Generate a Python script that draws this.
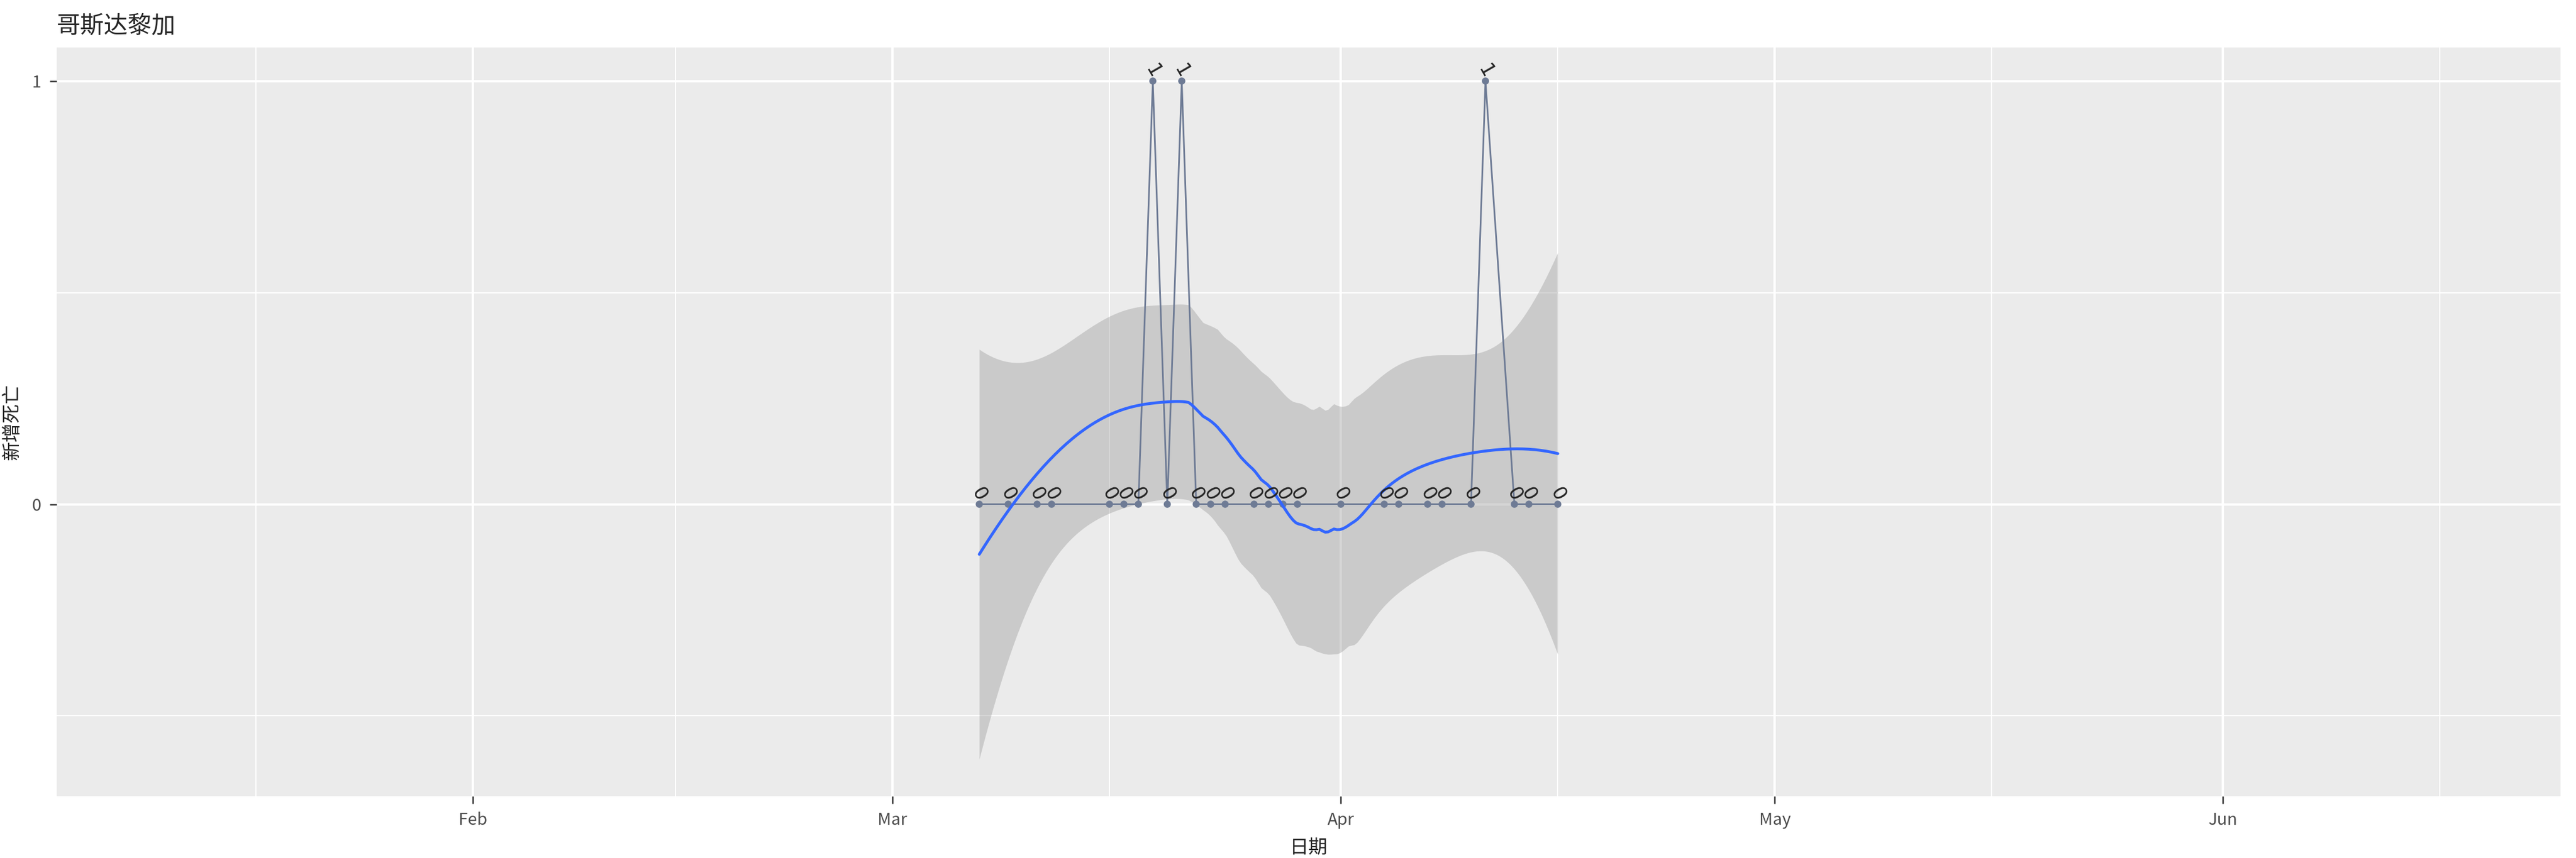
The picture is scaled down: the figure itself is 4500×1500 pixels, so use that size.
import numpy as np, pandas as pd, matplotlib
matplotlib.use("Agg")
import matplotlib.pyplot as plt, seaborn as sns
import matplotlib.dates as mdates

dates = ["2020-03-07","2020-03-09","2020-03-11","2020-03-12","2020-03-16","2020-03-17","2020-03-18",
         "2020-03-19","2020-03-20","2020-03-21","2020-03-22","2020-03-23","2020-03-24","2020-03-26",
         "2020-03-27","2020-03-28","2020-03-29","2020-04-01","2020-04-04","2020-04-05","2020-04-07",
         "2020-04-08","2020-04-10","2020-04-11","2020-04-13","2020-04-14","2020-04-16"]
deaths = [0,0,0,0,0,0,0,1,0,1,0,0,0,0,0,0,0,0,0,0,0,0,0,1,0,0,0]

df = pd.DataFrame({"date": pd.to_datetime(dates), "deaths": deaths})
x = mdates.date2num(df["date"]); y = np.array(deaths, float)

def loess(x, y, xs, span=0.75):
    n = len(x); q = int(np.floor(n*span))
    def row(x0):
        d = np.abs(x - x0); h = np.sort(d)[q-1]
        w = np.clip(1-(d/h)**3, 0, None)**3
        X = np.vstack([np.ones(n), x-x0, (x-x0)**2]).T
        W = np.diag(w)
        A = np.linalg.pinv(X.T@W@X)@X.T@W
        return A[0]
    L = np.array([row(v) for v in x])
    I = np.eye(n); M = (I-L).T@(I-L)
    d1 = np.trace(M); d2 = np.trace(M@M)
    s = np.sqrt(np.sum((y-L@y)**2)/d1)
    Ls = np.array([row(v) for v in xs])
    fit = Ls@y; se = s*np.sqrt(np.sum(Ls**2, axis=1))
    return fit, se, d1**2/d2

xs = np.linspace(x.min(), x.max(), 200)
fit, se, dfree = loess(x, y, xs)
tq = 2.05

sns.set_theme(style="darkgrid", rc={"axes.facecolor": "#EBEBEB", "grid.color": "white"})
plt.rcParams['font.family'] = ['Noto Sans CJK SC', 'DejaVu Sans']
fig, ax = plt.subplots(figsize=(15, 5), dpi=300)
fig.subplots_adjust(left=0.022, right=0.994, top=0.945, bottom=0.072)

ax.fill_between(mdates.num2date(xs), fit-tq*se, fit+tq*se, color="#999999", alpha=0.4, lw=0, zorder=2)
sns.lineplot(data=df, x="date", y="deaths", color="#6E7B95", lw=0.7, ax=ax, zorder=3)
sns.scatterplot(data=df, x="date", y="deaths", color="#6E7B95", s=9, edgecolor="none", ax=ax, zorder=4)
ax.plot(mdates.num2date(xs), fit, color="#3366FF", lw=1.2, zorder=5)
for d, v in zip(df["date"], deaths):
    ax.text(d, v, str(v), rotation=-60, fontsize=8, ha="center", va="bottom", color="#222222",
            zorder=6, family="DejaVu Sans")

ax.set_xlim(pd.Timestamp("2020-01-03 05:00"), pd.Timestamp("2020-06-24 08:00"))
ax.set_ylim(-0.69, 1.08)
ax.set_yticks([0, 1]); ax.set_yticks([-0.5, 0.5], minor=True)
ticks = pd.to_datetime(["2020-02-01","2020-03-01","2020-04-01","2020-05-01","2020-06-01"])
ax.set_xticks(ticks); ax.set_xticklabels(["Feb","Mar","Apr","May","Jun"])
ax.set_xticks(pd.to_datetime(["2020-01-17","2020-02-15","2020-03-16","2020-04-16","2020-05-16","2020-06-16"]), minor=True)
ax.grid(which="major", color="white", lw=1.0)
ax.grid(which="minor", color="white", lw=0.5)
ax.tick_params(axis="both", which="major", labelsize=7, colors="#4D4D4D", length=3, width=0.6)
ax.tick_params(which="minor", length=0)
ax.tick_params(axis="both", which="major", bottom=True, left=True, color="#333333")
ax.set_xlabel("日期", fontsize=8); ax.set_ylabel("新增死亡", fontsize=8)
ax.set_title("哥斯达黎加", loc="left", fontsize=10)
for s_ in ax.spines.values(): s_.set_visible(False)
fig.savefig("out.png", dpi=300)
